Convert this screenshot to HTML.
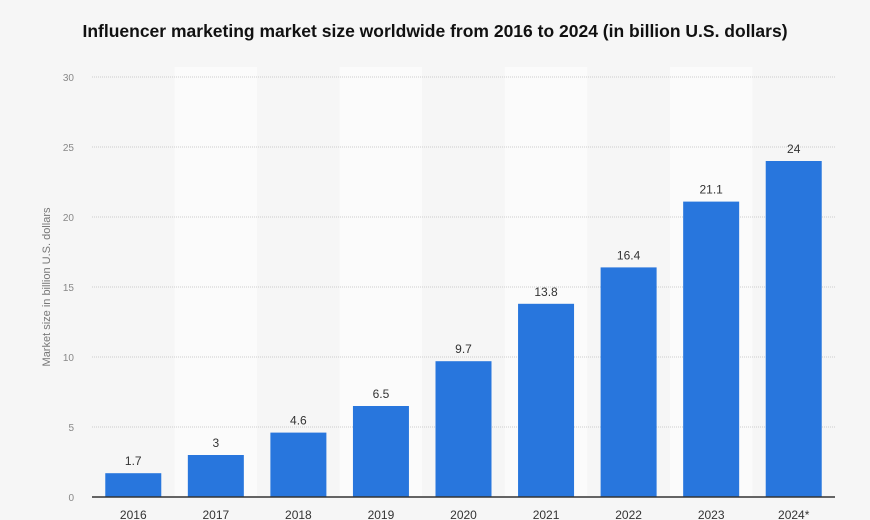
<!DOCTYPE html>
<html><head><meta charset="utf-8"><style>
body{margin:0;background:#fff;font-family:"Liberation Sans",sans-serif}
svg{display:block}
</style></head><body>
<svg id="c" width="870" height="520">
<rect width="870" height="520" fill="#f6f6f6"/>
<text x="435" y="37" text-anchor="middle" font-size="17.5" font-weight="bold" fill="#111">Influencer marketing market size worldwide from 2016 to 2024 (in billion U.S. dollars)</text>
<text transform="translate(50,287) rotate(-90)" text-anchor="middle" font-size="11" fill="#777">Market size in billion U.S. dollars</text>
<g id="bands"></g><g id="grid"></g><g id="bars"></g>
</svg>
<script>
const categories=["2016","2017","2018","2019","2020","2021","2022","2023","2024*"];
const values=[1.7,3,4.6,6.5,9.7,13.8,16.4,21.1,24];
const labels=["1.7","3","4.6","6.5","9.7","13.8","16.4","21.1","24"];
const yTicks=[0,5,10,15,20,25,30];
const ns="http://www.w3.org/2000/svg";
const x0=92,x1=835,yTop=77,yBot=497,yMax=30;
const step=(x1-x0)/categories.length,bw=56;
const y=v=>yBot-(v/yMax)*(yBot-yTop);
const xc=i=>x0+step*(i+0.5);
function mk(t,a,p){const e=document.createElementNS(ns,t);for(const k in a)e.setAttribute(k,a[k]);document.getElementById(p).appendChild(e);return e;}
categories.forEach((c,i)=>{const r=mk("rect",{x:x0+step*i,y:yTop-10,width:step,height:yBot-yTop+10,fill:i%2?"#fbfbfb":"#f6f6f6"},"bands");
});
yTicks.forEach(t=>{if(t>0){const l=mk("line",{x1:x0,x2:x1,y1:y(t),y2:y(t),stroke:"#ccc","stroke-dasharray":"1,1"},"grid");
}
const tx=mk("text",{x:74,y:y(t)+4,"text-anchor":"end","font-size":"10","fill":"#888"},"grid");tx.textContent=t;
});
values.forEach((v,i)=>{const b=mk("rect",{x:xc(i)-bw/2,y:y(v),width:bw,height:yBot-y(v),fill:"#2876dd"},"bars");

const t=mk("text",{x:xc(i),y:y(v)-8,"text-anchor":"middle","font-size":"12","fill":"#333"},"bars");t.textContent=labels[i];

const c=mk("text",{x:xc(i),y:yBot+22,"text-anchor":"middle","font-size":"12","fill":"#333"},"bars");c.textContent=categories[i];
});
const ax=mk("line",{x1:x0,x2:x1,y1:yBot,y2:yBot,stroke:"#333","stroke-width":1.5},"bars");

</script>
</body></html>
